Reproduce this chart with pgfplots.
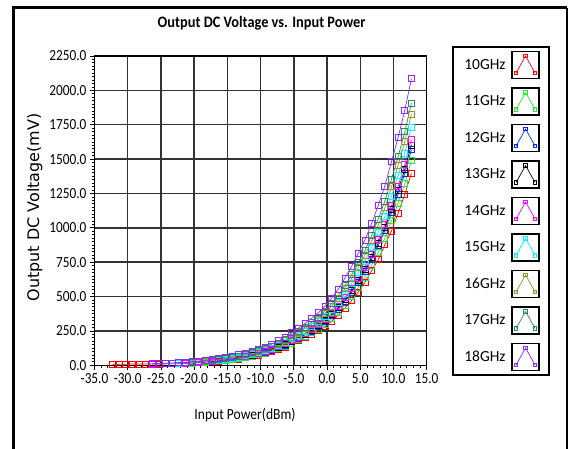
\documentclass[border=0pt]{standalone}
\usepackage{fontspec}
\setmainfont{Carlito}
\newfontfamily\dejavu{DejaVu Sans}
\usepackage{pgfplots}
\pgfplotsset{compat=1.18}
\definecolor{c10}{RGB}{255,0,0}
\definecolor{c11}{RGB}{40,230,40}
\definecolor{c12}{RGB}{0,40,255}
\definecolor{c13}{RGB}{0,0,0}
\definecolor{c14}{RGB}{255,0,255}
\definecolor{c15}{RGB}{0,240,255}
\definecolor{c16}{RGB}{150,145,40}
\definecolor{c17}{RGB}{40,140,90}
\definecolor{c18}{RGB}{140,40,255}
\begin{document}
\begin{tikzpicture}
\useasboundingbox (0,0) rectangle (569bp,449bp);
\draw[line width=3bp] (13bp,0) -- (13bp,441bp) -- (567bp,441bp);
\draw[line width=1.2bp] (567bp,441bp) -- (567bp,0);
\begin{axis}[
  at={(94.5bp,83.7bp)}, anchor=south west,
  scale only axis, width=332.2bp, height=309.3bp,
  xmin=-35, xmax=15, ymin=0, ymax=2250,
  xtick={-35,-30,...,15}, ytick={0,250,...,2250},
  minor x tick num=4, minor y tick num=9,
  tick align=outside, tick pos=left,
  major tick length=5bp, minor tick length=2.5bp,
  every tick/.style={black, line width=0.8bp},
  grid=major, major grid style={black!80, line width=1.4bp},
  axis line style={black, line width=1.2bp},
  /pgf/number format/.cd, fixed, fixed zerofill, precision=1, 1000 sep={}, assume math mode=true,
  /pgfplots/.cd,
  ticklabel style={font=\fontsize{15.5}{17}\selectfont, text=black, xscale=0.86},
  xlabel={Input Power(dBm)},
  xlabel style={font=\fontsize{15.5}{17}\selectfont, xscale=0.88, at={(axis description cs:0.453,-0.161)}, anchor=center},
  ylabel={Output DC Voltage(mV)},
  ylabel style={font=\dejavu\fontsize{16}{18}\selectfont, at={(axis description cs:-0.18,0.51)}, anchor=center},
  title={Output DC Voltage vs. Input Power},
  title style={font=\bfseries\fontsize{16}{18}\selectfont, xscale=0.9, at={(axis description cs:0.503,1.087)}, anchor=center},
  legend plot pos=right,
  legend cell align=left,
  legend image code/.code={
    \draw[black, line width=1.2bp, fill=white, solid] (0bp,-13.5bp) rectangle (27bp,13.5bp);
    \draw[#1, mark size=1.8bp] plot coordinates {(4bp,-8bp)(13.5bp,9bp)(23bp,-8bp)};
  },
  legend style={at={(axis description cs:1.077,1.033)}, anchor=north west,
    draw=black, line width=2.2bp, fill=white,
    font=\fontsize{15.5}{17}\selectfont,
    row sep=8.3bp, column sep=4bp, inner xsep=9bp, inner ysep=4bp},
  ser/.style={color=#1, line width=0.7bp, mark=square, mark size=3bp, mark options={solid, line width=0.8bp}},
]
\addplot[ser=c10] coordinates {(-32.3,8)(-31.3,8)(-30.3,8)(-29.3,9)(-28.3,9)(-27.3,9)(-26.3,9)(-25.3,10)(-24.3,11)(-23.3,12)(-22.3,13)(-21.3,15)(-20.3,17)(-19.3,20)(-18.3,23)(-17.3,27)(-16.3,31)(-15.3,35)(-14.3,40)(-13.3,46)(-12.3,54)(-11.3,62)(-10.3,72)(-9.3,84)(-8.3,98)(-7.3,114)(-6.3,133)(-5.3,156)(-4.3,178)(-3.3,203)(-2.3,228)(-1.3,255)(-0.3,282)(0.7,321)(1.7,364)(2.7,416)(3.7,471)(4.7,533)(5.7,604)(6.7,688)(7.7,767)(8.7,877)(9.7,977)(10.7,1106)(11.7,1244)(12.7,1397)};
\addlegendentry{10GHz}
\addplot[ser=c11] coordinates {(-20.3,17)(-19.3,20)(-18.3,24)(-17.3,28)(-16.3,33)(-15.3,38)(-14.3,44)(-13.3,50)(-12.3,58)(-11.3,68)(-10.3,78)(-9.3,90)(-8.3,105)(-7.3,121)(-6.3,140)(-5.3,162)(-4.3,186)(-3.3,210)(-2.3,236)(-1.3,264)(-0.3,297)(0.7,338)(1.7,383)(2.7,438)(3.7,500)(4.7,568)(5.7,640)(6.7,727)(7.7,823)(8.7,925)(9.7,1052)(10.7,1180)(11.7,1320)(12.7,1488)};
\addlegendentry{11GHz}
\addplot[ser=c12] coordinates {(-24.3,12)(-23.3,13)(-22.3,15)(-21.3,17)(-20.3,20)(-19.3,23)(-18.3,27)(-17.3,31)(-16.3,36)(-15.3,41)(-14.3,47)(-13.3,54)(-12.3,62)(-11.3,72)(-10.3,83)(-9.3,96)(-8.3,111)(-7.3,128)(-6.3,148)(-5.3,171)(-4.3,196)(-3.3,222)(-2.3,250)(-1.3,280)(-0.3,316)(0.7,360)(1.7,408)(2.7,467)(3.7,532)(4.7,604)(5.7,680)(6.7,770)(7.7,870)(8.7,978)(9.7,1110)(10.7,1245)(11.7,1395)(12.7,1568)};
\addlegendentry{12GHz}
\addplot[ser=c13] coordinates {(-21.3,16)(-20.3,19)(-19.3,22)(-18.3,26)(-17.3,30)(-16.3,35)(-15.3,41)(-14.3,48)(-13.3,55)(-12.3,64)(-11.3,74)(-10.3,85)(-9.3,98)(-8.3,114)(-7.3,131)(-6.3,152)(-5.3,175)(-4.3,200)(-3.3,227)(-2.3,256)(-1.3,287)(-0.3,323)(0.7,368)(1.7,418)(2.7,478)(3.7,543)(4.7,616)(5.7,695)(6.7,787)(7.7,890)(8.7,1000)(9.7,1135)(10.7,1273)(11.7,1425)(12.7,1603)};
\addlegendentry{13GHz}
\addplot[ser=c14] coordinates {(-26.3,10)(-25.3,11)(-24.3,12)(-23.3,13)(-22.3,15)(-21.3,17)(-20.3,20)(-19.3,23)(-18.3,27)(-17.3,31)(-16.3,37)(-15.3,43)(-14.3,49)(-13.3,57)(-12.3,66)(-11.3,76)(-10.3,88)(-9.3,101)(-8.3,117)(-7.3,135)(-6.3,156)(-5.3,180)(-4.3,206)(-3.3,234)(-2.3,264)(-1.3,296)(-0.3,333)(0.7,380)(1.7,430)(2.7,492)(3.7,560)(4.7,635)(5.7,715)(6.7,810)(7.7,914)(8.7,1025)(9.7,1163)(10.7,1305)(11.7,1460)(12.7,1640)};
\addlegendentry{14GHz}
\addplot[ser=c15] coordinates {(-25.3,11)(-24.3,12)(-23.3,14)(-22.3,16)(-21.3,18)(-20.3,21)(-19.3,25)(-18.3,29)(-17.3,34)(-16.3,39)(-15.3,46)(-14.3,53)(-13.3,61)(-12.3,71)(-11.3,82)(-10.3,94)(-9.3,108)(-8.3,126)(-7.3,145)(-6.3,167)(-5.3,193)(-4.3,221)(-3.3,250)(-2.3,282)(-1.3,316)(-0.3,356)(0.7,405)(1.7,459)(2.7,526)(3.7,597)(4.7,676)(5.7,758)(6.7,857)(7.7,967)(8.7,1085)(9.7,1230)(10.7,1380)(11.7,1543)(12.7,1733)};
\addlegendentry{15GHz}
\addplot[ser=c16] coordinates {(-21.3,19)(-20.3,22)(-19.3,26)(-18.3,31)(-17.3,36)(-16.3,42)(-15.3,49)(-14.3,57)(-13.3,65)(-12.3,76)(-11.3,88)(-10.3,101)(-9.3,116)(-8.3,135)(-7.3,155)(-6.3,179)(-5.3,206)(-4.3,236)(-3.3,267)(-2.3,300)(-1.3,336)(-0.3,378)(0.7,430)(1.7,487)(2.7,557)(3.7,632)(4.7,715)(5.7,801)(6.7,905)(7.7,1020)(8.7,1145)(9.7,1298)(10.7,1455)(11.7,1628)(12.7,1828)};
\addlegendentry{16GHz}
\addplot[ser=c17] coordinates {(-22.3,18)(-21.3,20)(-20.3,24)(-19.3,28)(-18.3,33)(-17.3,38)(-16.3,44)(-15.3,51)(-14.3,60)(-13.3,68)(-12.3,79)(-11.3,92)(-10.3,105)(-9.3,121)(-8.3,141)(-7.3,162)(-6.3,187)(-5.3,215)(-4.3,246)(-3.3,279)(-2.3,314)(-1.3,351)(-0.3,395)(0.7,449)(1.7,508)(2.7,581)(3.7,659)(4.7,746)(5.7,835)(6.7,943)(7.7,1064)(8.7,1195)(9.7,1355)(10.7,1518)(11.7,1698)(12.7,1908)};
\addlegendentry{17GHz}
\addplot[ser=c18] coordinates {(-26.3,11)(-25.3,13)(-24.3,15)(-23.3,17)(-22.3,20)(-21.3,23)(-20.3,27)(-19.3,32)(-18.3,37)(-17.3,43)(-16.3,50)(-15.3,58)(-14.3,67)(-13.3,76)(-12.3,88)(-11.3,102)(-10.3,116)(-9.3,133)(-8.3,155)(-7.3,178)(-6.3,205)(-5.3,236)(-4.3,270)(-3.3,305)(-2.3,343)(-1.3,383)(-0.3,431)(0.7,490)(1.7,555)(2.7,635)(3.7,720)(4.7,815)(5.7,912)(6.7,1030)(7.7,1162)(8.7,1305)(9.7,1480)(10.7,1658)(11.7,1855)(12.7,2085)};
\addlegendentry{18GHz}
\end{axis}
\end{tikzpicture}
\end{document}
